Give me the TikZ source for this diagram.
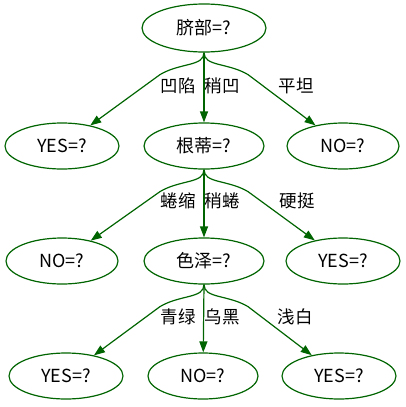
\documentclass[tikz,border=0pt]{standalone}
\usepackage{fontspec}
\setmainfont{Noto Sans CJK SC}
\usetikzlibrary{arrows.meta,calc,shapes.geometric}
\definecolor{treegreen}{RGB}{0,100,0}

\tikzset{
  test/.style={ellipse,draw=treegreen,line width=1.2pt,minimum width=120pt,
    minimum height=46pt,inner sep=0pt,font=\fontsize{18}{18}\selectfont},
  leaf/.style={test,minimum width=114pt},
  edge/.style={draw=treegreen,line width=1.2pt,-{Triangle[length=11pt,width=8pt]}},
  lbl/.style={inner sep=0pt,font=\fontsize{17.5}{17.5}\selectfont}
}

\begin{document}
\begin{tikzpicture}[x=1pt,y=-1pt]
\useasboundingbox (0,0) rectangle (406,407);

%%Nodes
\node[test,minimum width=124pt,minimum height=48pt] (qibu) at (204,28) {脐部=?};

\node[leaf] (yes1) at (62,146) {YES=?};
\node[test] (gendi) at (204,146) {根蒂=?};
\node[leaf,minimum width=112pt] (no1) at (343,146) {NO=?};

\node[leaf,minimum width=112pt] (no2) at (62,261) {NO=?};
\node[test] (sezhe) at (204,261) {色泽=?};
\node[leaf] (yes2) at (343,261) {YES=?};

\node[leaf] (yes3) at (66,376) {YES=?};
\node[leaf,minimum width=110pt] (no3) at (203,376) {NO=?};
\node[leaf] (yes4) at (339,376) {YES=?};

%%Edges
\draw[edge] (qibu.south) .. controls +(0,14) and +(20,-12) .. ($(qibu.south)+(-44,22)$) -- (yes1);
\draw[edge] (qibu.south) -- (gendi);
\draw[edge] (qibu.south) .. controls +(0,14) and +(-20,-12) .. ($(qibu.south)+(44,22)$) -- (no1);

\draw[edge] (gendi.south) .. controls +(0,14) and +(20,-12) .. ($(gendi.south)+(-44,22)$) -- (no2);
\draw[edge] (gendi.south) -- (sezhe);
\draw[edge] (gendi.south) .. controls +(0,14) and +(-20,-12) .. ($(gendi.south)+(44,22)$) -- (yes2);

\draw[edge] (sezhe.south) .. controls +(0,14) and +(20,-12) .. ($(sezhe.south)+(-44,22)$) -- (yes3);
\draw[edge] (sezhe.south) -- (no3);
\draw[edge] (sezhe.south) .. controls +(0,14) and +(-20,-12) .. ($(sezhe.south)+(44,22)$) -- (yes4);

%%Labels
\node[lbl] (l11) at ($(qibu)+(-26,58)$) {凹陷};
\node[lbl] (l12) at ($(qibu)+(18,58)$) {稍凹};
\node[lbl] (l13) at ($(qibu)+(92,58)$) {平坦};

\node[lbl] (l21) at ($(gendi)+(-26,55)$) {蜷缩};
\node[lbl] (l22) at ($(gendi)+(18,55)$) {稍蜷};
\node[lbl] (l23) at ($(gendi)+(93,55)$) {硬挺};

\node[lbl] (l31) at ($(sezhe)+(-26,56)$) {青绿};
\node[lbl] (l32) at ($(sezhe)+(18,56)$) {乌黑};
\node[lbl] (l33) at ($(sezhe)+(91,56)$) {浅白};

\end{tikzpicture}
\end{document}
